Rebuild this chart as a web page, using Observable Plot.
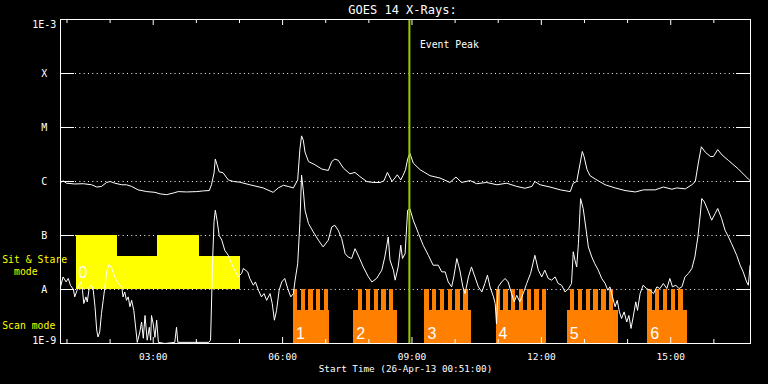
<!DOCTYPE html>
<html><head><meta charset="utf-8">
<script src="https://cdn.jsdelivr.net/npm/d3@7"></script>
<script src="https://cdn.jsdelivr.net/npm/@observablehq/plot@0.6"></script>
<style>html,body{margin:0;padding:0;background:#000;}</style>
</head><body>
<script>
// Times are decimal hours (UT) on 26-Apr-2013; fluxes in W/m^2
const longChannel = [[0.85,9.5e-7],[0.91,1.03e-6],[0.99,9.3e-7],[1.18,9.0e-7],[1.38,9.1e-7],[1.57,8.7e-7],[1.69,7.9e-7],[1.80,8.1e-7],[1.92,9.6e-7],[2.00,1.0e-6],[2.11,9.3e-7],[2.27,8.7e-7],[2.38,8.7e-7],[2.50,8.1e-7],[2.65,7.0e-7],[2.85,6.5e-7],[3.04,6.3e-7],[3.16,5.9e-7],[3.31,5.7e-7],[3.46,6.1e-7],[3.58,6.5e-7],[3.77,6.4e-7],[4.01,6.5e-7],[4.16,6.7e-7],[4.30,6.8e-7],[4.35,8.7e-7],[4.41,1.43e-6],[4.44,2.6e-6],[4.48,2.04e-6],[4.53,1.51e-6],[4.62,1.45e-6],[4.74,1.07e-6],[4.86,1.0e-6],[5.01,9.7e-7],[5.24,8.7e-7],[5.55,7.6e-7],[5.78,6.3e-7],[5.90,7.6e-7],[6.02,8.5e-7],[6.13,8.1e-7],[6.25,7.6e-7],[6.35,1.07e-6],[6.40,3.9e-6],[6.44,7.0e-6],[6.48,5.8e-6],[6.52,3.5e-6],[6.60,2.34e-6],[6.75,2.04e-6],[6.91,1.70e-6],[7.06,1.60e-6],[7.14,2.34e-6],[7.21,2.6e-6],[7.29,2.47e-6],[7.41,1.77e-6],[7.56,1.39e-6],[7.68,1.47e-6],[7.79,1.24e-6],[7.95,1.0e-6],[8.10,9.6e-7],[8.26,9.6e-7],[8.35,1.03e-6],[8.43,1.47e-6],[8.54,1.0e-6],[8.66,1.33e-6],[8.74,1.07e-6],[8.79,1.28e-6],[8.85,1.65e-6],[8.90,2.6e-6],[8.95,3.36e-6],[9.03,2.19e-6],[9.19,1.65e-6],[9.42,1.28e-6],[9.65,1.16e-6],[9.88,9.6e-7],[10.02,1.21e-6],[10.15,9.6e-7],[10.35,1.04e-6],[10.50,9.1e-7],[10.73,9.6e-7],[10.97,8.7e-7],[11.20,9.3e-7],[11.43,8.1e-7],[11.62,7.5e-7],[11.78,8.1e-7],[11.85,1.0e-6],[11.97,8.7e-7],[12.20,7.9e-7],[12.44,7.0e-7],[12.67,6.5e-7],[12.74,9.3e-7],[12.82,1.0e-6],[12.90,2.19e-6],[12.95,3.6e-6],[12.99,2.9e-6],[13.06,1.65e-6],[13.13,1.28e-6],[13.25,1.11e-6],[13.48,8.7e-7],[13.71,7.6e-7],[13.94,6.8e-7],[14.18,6.4e-7],[14.37,7.0e-7],[14.64,7.0e-7],[14.83,7.9e-7],[15.03,7.2e-7],[15.14,7.6e-7],[15.34,7.3e-7],[15.49,8.7e-7],[15.57,1.0e-6],[15.64,2.19e-6],[15.71,4.4e-6],[15.80,3.5e-6],[15.92,2.9e-6],[15.99,2.9e-6],[16.09,3.9e-6],[16.19,3.1e-6],[16.34,2.45e-6],[16.57,1.70e-6],[16.80,1.11e-6],[16.84,1.04e-6]];

const shortChannel = [[0.85,1.12e-8],[0.91,1.71e-8],[0.98,1.38e-8],[1.03,1.60e-8],[1.08,1.20e-8],[1.15,1.0e-8],[1.18,7.3e-9],[1.22,9.0e-9],[1.26,1.12e-8],[1.32,1.38e-8],[1.36,9.7e-9],[1.39,5.5e-9],[1.44,7.3e-9],[1.47,5.9e-9],[1.52,1.12e-8],[1.57,1.20e-8],[1.61,9.7e-9],[1.65,4.8e-9],[1.69,1.76e-9],[1.72,1.32e-9],[1.76,1.64e-9],[1.80,3.6e-9],[1.84,6.3e-9],[1.88,1.12e-8],[1.93,2.28e-8],[1.98,2.94e-8],[2.04,2.45e-8],[2.11,1.71e-8],[2.19,1.29e-8],[2.27,1.12e-8],[2.30,7.3e-9],[2.34,9.0e-9],[2.38,6.3e-9],[2.42,7.3e-9],[2.46,4.8e-9],[2.50,6.3e-9],[2.55,4.1e-9],[2.60,1.76e-9],[2.63,1.05e-9],[2.69,1.64e-9],[2.73,2.5e-9],[2.77,1.25e-9],[2.81,3.3e-9],[2.86,1.15e-9],[2.91,2.0e-9],[2.94,1.15e-9],[2.96,3.3e-9],[3.00,2.3e-9],[3.04,1.3e-9],[3.08,2.7e-9],[3.12,1.05e-9],[3.27,1.0e-9],[3.50,1.05e-9],[3.54,2.0e-9],[3.57,1.05e-9],[3.97,1.05e-9],[4.29,1.05e-9],[4.33,1.15e-9],[4.38,4.0e-8],[4.41,1.79e-7],[4.44,2.94e-7],[4.48,1.92e-7],[4.53,1.0e-7],[4.59,8.2e-8],[4.66,5.3e-8],[4.74,4.3e-8],[4.82,3.0e-8],[4.89,2.28e-8],[4.97,1.71e-8],[5.05,1.98e-8],[5.09,2.45e-8],[5.19,2.12e-8],[5.24,1.60e-8],[5.32,1.20e-8],[5.37,1.38e-8],[5.44,9.7e-9],[5.51,7.3e-9],[5.57,8.4e-9],[5.63,6.3e-9],[5.71,8.4e-9],[5.76,5.5e-9],[5.81,2.7e-9],[5.86,4.1e-9],[5.92,9.7e-9],[5.98,1.38e-8],[6.05,1.60e-8],[6.12,1.04e-8],[6.19,7.3e-9],[6.25,8.4e-9],[6.29,1.49e-8],[6.35,3.0e-8],[6.40,1.67e-7],[6.44,1.31e-6],[6.48,6.9e-7],[6.52,2.94e-7],[6.60,1.67e-7],[6.71,1.17e-7],[6.83,8.2e-8],[6.94,6.15e-8],[7.06,8.2e-8],[7.14,1.44e-7],[7.21,1.55e-7],[7.29,1.25e-7],[7.37,8.8e-8],[7.45,4.6e-8],[7.52,4.0e-8],[7.60,3.75e-8],[7.68,5.7e-8],[7.77,4.0e-8],[7.87,2.62e-8],[7.99,1.71e-8],[8.07,1.38e-8],[8.18,1.60e-8],[8.30,2.28e-8],[8.37,4.0e-8],[8.45,9.4e-8],[8.49,3.5e-8],[8.57,2.28e-8],[8.61,1.49e-8],[8.68,2.62e-8],[8.74,6.6e-8],[8.78,3.75e-8],[8.84,4.6e-8],[8.90,2.94e-7],[8.95,3.16e-7],[9.03,1.92e-7],[9.15,1.09e-7],[9.26,6.6e-8],[9.38,4.3e-8],[9.49,2.82e-8],[9.61,2.82e-8],[9.69,2.12e-8],[9.77,2.12e-8],[9.84,1.38e-8],[9.92,1.12e-8],[9.97,1.71e-8],[10.04,3.75e-8],[10.11,2.28e-8],[10.18,1.12e-8],[10.23,8.4e-9],[10.31,1.71e-8],[10.38,2.62e-8],[10.46,1.71e-8],[10.54,1.12e-8],[10.62,9.0e-9],[10.69,1.29e-8],[10.75,1.84e-8],[10.81,1.12e-8],[10.89,7.3e-9],[10.93,5.5e-9],[10.96,2.3e-9],[11.00,1.12e-8],[11.08,1.38e-8],[11.16,1.60e-8],[11.23,1.38e-8],[11.31,8.4e-9],[11.37,5.9e-9],[11.43,7.8e-9],[11.50,5.9e-9],[11.58,8.4e-9],[11.66,1.29e-8],[11.75,1.98e-8],[11.85,4.3e-8],[11.93,2.28e-8],[12.01,1.71e-8],[12.08,2.28e-8],[12.16,1.60e-8],[12.24,1.49e-8],[12.32,1.71e-8],[12.39,1.29e-8],[12.47,1.20e-8],[12.55,9.0e-9],[12.63,1.04e-8],[12.70,1.29e-8],[12.74,5.0e-8],[12.78,3.5e-8],[12.82,2.62e-8],[12.86,7.1e-8],[12.91,4.84e-7],[12.97,3.16e-7],[13.04,1.25e-7],[13.09,6.15e-8],[13.17,4.0e-8],[13.24,3.0e-8],[13.32,2.28e-8],[13.40,1.60e-8],[13.48,1.29e-8],[13.54,9.7e-9],[13.59,1.12e-8],[13.65,7.3e-9],[13.71,4.8e-9],[13.76,6.3e-9],[13.81,3.85e-9],[13.86,2.9e-9],[13.92,3.85e-9],[13.98,2.5e-9],[14.03,3.3e-9],[14.08,1.9e-9],[14.13,3.1e-9],[14.19,5.9e-9],[14.23,4.1e-9],[14.29,8.4e-9],[14.36,1.20e-8],[14.44,1.04e-8],[14.52,9.7e-9],[14.60,8.4e-9],[14.68,1.12e-8],[14.75,1.04e-8],[14.83,1.29e-8],[14.91,1.04e-8],[14.98,1.60e-8],[15.04,1.12e-8],[15.12,1.20e-8],[15.19,1.04e-8],[15.26,1.12e-8],[15.33,1.71e-8],[15.41,1.98e-8],[15.49,2.45e-8],[15.56,4.0e-8],[15.63,9.4e-8],[15.68,2.21e-7],[15.72,4.84e-7],[15.78,4.19e-7],[15.86,2.94e-7],[15.95,1.92e-7],[16.03,2.55e-7],[16.09,3.16e-7],[16.18,2.07e-7],[16.26,1.25e-7],[16.34,9.4e-8],[16.41,7.1e-8],[16.53,4.3e-8],[16.61,2.82e-8],[16.68,2.12e-8],[16.76,1.38e-8],[16.80,1.20e-8],[16.84,2.82e-8]];

const sitStare = [
  {start: 1.23, end: 2.18, top: 1e-7},
  {start: 2.18, end: 3.11, top: 4.1e-8},
  {start: 3.11, end: 4.08, top: 1e-7},
  {start: 4.08, end: 5.03, top: 4.1e-8}
];
const sitStareLabel = "0";
const sitBase = 1e-8;

const scanBlocks = [
  {label: "1", start: 6.25,  end: 7.08,  teethStart: 6.25,  teeth: 5},
  {label: "2", start: 7.65,  end: 8.67,  teethStart: 7.76,  teeth: 5},
  {label: "3", start: 9.30,  end: 10.39, teethStart: 9.30,  teeth: 6},
  {label: "4", start: 10.95, end: 12.13, teethStart: 10.95, teeth: 7},
  {label: "5", start: 12.60, end: 13.78, teethStart: 12.68, teeth: 6},
  {label: "6", start: 14.47, end: 15.40, teethStart: 14.47, teeth: 5}
];
const scanStep = 0.18;     // hours between raster steps
const toothWidth = 0.10;   // hours per raster step
const scanFloor = 1e-9, scanBaseTop = 4.1e-9, scanTop = 1e-8;

const classLevels = [1e-8, 1e-7, 1e-6, 1e-5, 1e-4];
const classLabels = ["A", "B", "C", "M", "X"];
const endLevels = [1e-3, 1e-9];
const endLabels = ["1E-3", "1E-9"];
const hourTicks = [1,2,3,4,5,6,7,8,9,10,11,12,13,14,15,16];
const majorHours = [3, 6, 9, 12, 15];
const majorLabels = ["03:00", "06:00", "09:00", "12:00", "15:00"];
const eventPeak = 8.94;
const startHour = 0.85, endHour = 16.85;

const T0 = Date.UTC(2013, 3, 26);
const t = h => new Date(T0 + h * 3600000);

const teethRects = scanBlocks.flatMap(b => d3.range(b.teeth).map(i => ({
  x1: b.teethStart + i * scanStep, x2: b.teethStart + i * scanStep + toothWidth
})));
const minorHours = hourTicks.filter(h => !majorHours.includes(h));

const H = 384, W = 768, mT = 19, mB = 41, mL = 60, mR = 18;
const innerH = H - mT - mB, innerW = W - mL - mR;
const font = "DejaVu Sans Mono";

const chart = Plot.plot({
  width: W, height: H,
  marginTop: mT, marginBottom: mB, marginLeft: mL, marginRight: mR,
  style: {background: "#000", color: "#fff", fontFamily: font, overflow: "visible"},
  x: {type: "utc", domain: [t(startHour), t(endHour)], axis: null},
  y: {type: "log", domain: [1e-9, 1e-3], axis: null},
  marks: [
    Plot.ruleY(classLevels, {y: d => d, stroke: "white", strokeDasharray: "1,3.33", insetLeft: 15, insetRight: 15}),
    Plot.rect(sitStare, {x1: d => t(d.start), x2: d => t(d.end), y1: sitBase, y2: d => d.top, fill: "#ffff00", shapeRendering: "crispEdges"}),
    Plot.rect(scanBlocks, {x1: d => t(d.start), x2: d => t(d.end), y1: scanFloor, y2: scanBaseTop, fill: "#ff8000", shapeRendering: "crispEdges"}),
    Plot.rect(teethRects, {x1: d => t(d.x1), x2: d => t(d.x2), y1: scanBaseTop, y2: scanTop, fill: "#ff8000", shapeRendering: "crispEdges"}),
    Plot.text(scanBlocks, {x: d => t(d.start), y: scanFloor, text: "label", dx: 2.5, dy: -5, textAnchor: "start", lineAnchor: "bottom", fill: "white", fontSize: 16, fontFamily: "Liberation Sans"}),
    Plot.text([sitStare[0]], {x: d => t(d.start), y: sitBase, text: () => sitStareLabel, dx: 1.5, dy: -12, textAnchor: "start", lineAnchor: "bottom", fill: "white", fontSize: 16, fontFamily: "Liberation Sans"}),
    Plot.line(shortChannel, {x: d => t(d[0]), y: d => d[1], stroke: "white", strokeWidth: 1, clip: true}),
    Plot.line(longChannel, {x: d => t(d[0]), y: d => d[1], stroke: "white", strokeWidth: 1, clip: true}),
    Plot.ruleX([eventPeak], {x: d => t(d), stroke: "#99cc00", strokeWidth: 2}),
    Plot.text([eventPeak], {x: d => t(d), frameAnchor: "top", dy: 28, dx: 10.5, text: () => "Event Peak", textAnchor: "start", lineAnchor: "bottom", fill: "white", fontSize: 9.8}),
    // hour ticks, top and bottom
    Plot.tickX(majorHours, {x: d => t(d), stroke: "white", insetBottom: innerH - 6}),
    Plot.tickX(minorHours, {x: d => t(d), stroke: "white", insetBottom: innerH - 4}),
    Plot.tickX(majorHours, {x: d => t(d), stroke: "white", insetTop: innerH - 6}),
    Plot.tickX(minorHours, {x: d => t(d), stroke: "white", insetTop: innerH - 4}),
    // decade ticks left and right
    Plot.tickY(classLevels, {y: d => d, stroke: "white", insetRight: innerW - 14}),
    Plot.tickY(classLevels, {y: d => d, stroke: "white", insetLeft: innerW - 14}),
    Plot.frame({stroke: "white"}),
    // axis labels
    Plot.text(majorHours, {x: d => t(d), y: 1e-9, dy: 16, text: (d, i) => majorLabels[i], textAnchor: "middle", lineAnchor: "bottom", fill: "white", fontSize: 9.5}),
    Plot.text(classLevels, {y: d => d, frameAnchor: "left", dx: -16.3, text: (d, i) => classLabels[i], textAnchor: "middle", lineAnchor: "middle", fill: "white", fontSize: 10}),
    Plot.text([endLevels[0]], {y: d => d, frameAnchor: "left", dx: -16.3, dy: 1.5, text: () => endLabels[0], textAnchor: "middle", lineAnchor: "top", fill: "white", fontSize: 10}),
    Plot.text([endLevels[1]], {y: d => d, frameAnchor: "left", dx: -16.3, dy: 0, text: () => endLabels[1], textAnchor: "middle", lineAnchor: "bottom", fill: "white", fontSize: 10}),
    Plot.text(["Sit & Stare"], {y: sitBase, frameAnchor: "left", dx: -58.3, dy: -26.6, text: d => d, textAnchor: "start", lineAnchor: "bottom", fill: "#ffff00", fontSize: 9.8}),
    Plot.text(["mode"], {y: sitBase, frameAnchor: "left", dx: -46.5, dy: -14.3, text: d => d, textAnchor: "start", lineAnchor: "bottom", fill: "#ffff00", fontSize: 9.8}),
    Plot.text(["Scan mode"], {y: scanFloor, frameAnchor: "left", dx: -58.3, dy: -15, text: d => d, textAnchor: "start", lineAnchor: "bottom", fill: "#ffff00", fontSize: 9.8}),
    Plot.text(["GOES 14 X-Rays:"], {frameAnchor: "top", dy: -6, text: d => d, textAnchor: "middle", lineAnchor: "bottom", fill: "white", fontSize: 12, dx: -3}),
    Plot.text(["Start Time (26-Apr-13 00:51:00)"], {frameAnchor: "bottom", dy: 28.7, text: d => d, textAnchor: "middle", lineAnchor: "bottom", fill: "white", fontSize: 9.3})
  ]
});
document.body.appendChild(chart);
</script>
</body></html>
